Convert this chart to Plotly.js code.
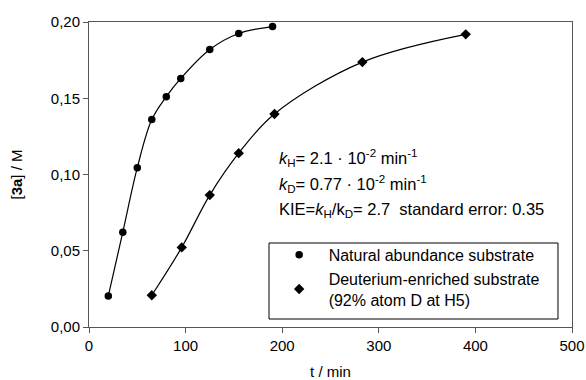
<!DOCTYPE html>
<html><head><meta charset="utf-8">
<script src="https://cdn.plot.ly/plotly-3.0.1.min.js"></script>
<style>html,body{margin:0;padding:0;background:#fff}#chart{width:586px;height:380px}</style>
</head><body><div id="chart"></div>
<script>
// Natural abundance substrate
var tH = [20, 35, 50, 65, 80, 95, 125, 155, 190];
var cH = [0.0204, 0.0622, 0.1045, 0.136, 0.151, 0.163, 0.182, 0.1925, 0.197];
// Deuterium-enriched substrate
var tD = [65, 96, 125, 155, 192, 283, 390];
var cD = [0.0208, 0.0522, 0.0865, 0.114, 0.1397, 0.1737, 0.1919];

var xTicks = [0, 100, 200, 300, 400, 500];
var yTicks = [0, 0.05, 0.10, 0.15, 0.20];
var yTickText = ['0,00', '0,05', '0,10', '0,15', '0,20'];

var nameH = 'Natural abundance substrate';
var nameD = 'Deuterium-enriched substrate<br>(92% atom D at H5)';

var FONT = 'Liberation Sans, Arial, sans-serif';

var traces = [
  {x: tH, y: cH, mode: 'lines', line: {color: '#000', width: 1.2, shape: 'spline', smoothing: 1}, showlegend: false, hoverinfo: 'skip'},
  {x: tD, y: cD, mode: 'lines', line: {color: '#000', width: 1.2, shape: 'spline', smoothing: 1}, showlegend: false, hoverinfo: 'skip'},
  {x: tH, y: cH, mode: 'markers', name: nameH, marker: {symbol: 'circle', size: 7.5, color: '#000'}},
  {x: tD, y: cD, mode: 'markers', name: nameD, marker: {symbol: 'diamond', size: 8, color: '#000'}}
];

var layout = {
  width: 586, height: 380,
  margin: {l: 89, r: 14, t: 22, b: 53},
  paper_bgcolor: '#fff', plot_bgcolor: '#fff',
  font: {family: FONT, size: 15, color: '#000'},
  xaxis: {
    range: [0, 500], tickvals: xTicks, ticktext: xTicks.map(String),
    showgrid: false, zeroline: false, showline: true, linecolor: '#555', linewidth: 1, mirror: true,
    ticks: 'outside', ticklen: 5, tickcolor: '#555',
    tickfont: {size: 15},
    title: {text: 't / min', font: {size: 15}, standoff: 13}
  },
  yaxis: {
    range: [0, 0.2], tickvals: yTicks, ticktext: yTickText,
    showgrid: false, zeroline: false, showline: true, linecolor: '#555', linewidth: 1, mirror: true,
    ticks: 'outside', ticklen: 5, tickcolor: '#555',
    tickfont: {size: 15},
    title: {text: '[<b>3a</b>] / M', font: {size: 15}, standoff: 24}
  },
  showlegend: true,
  legend: {
    x: 0.374, y: 0.033, xanchor: 'left', yanchor: 'bottom',
    borderwidth: 0, bgcolor: 'rgba(0,0,0,0)',
    font: {size: 16}, itemwidth: 49, tracegroupgap: 0
  },
  shapes: [
    {type: 'rect', xref: 'paper', yref: 'paper', x0: 0.3727, x1: 0.971, y0: 0.0262, y1: 0.2754,
     line: {color: '#000', width: 1}, fillcolor: 'rgba(0,0,0,0)', layer: 'above'}
  ],
  annotations: [
    {xref: 'paper', yref: 'paper', x: 0.39, y: 0.555, xanchor: 'left', yanchor: 'middle', showarrow: false, align: 'left',
     text: '<i>k</i><sub>H</sub>= 2.1 · 10<sup>-2</sup> min<sup>-1</sup>', font: {size: 16.5}},
    {xref: 'paper', yref: 'paper', x: 0.39, y: 0.47, xanchor: 'left', yanchor: 'middle', showarrow: false, align: 'left',
     text: '<i>k</i><sub>D</sub>= 0.77 · 10<sup>-2</sup> min<sup>-1</sup>', font: {size: 16.5}},
    {xref: 'paper', yref: 'paper', x: 0.39, y: 0.385, xanchor: 'left', yanchor: 'middle', showarrow: false, align: 'left',
     text: 'KIE=<i>k</i><sub>H</sub>/k<sub>D</sub>= 2.7  standard error: 0.35', font: {size: 16.5}}
  ]
};

Plotly.newPlot('chart', traces, layout, {displayModeBar: false, staticPlot: true});
</script></body></html>
